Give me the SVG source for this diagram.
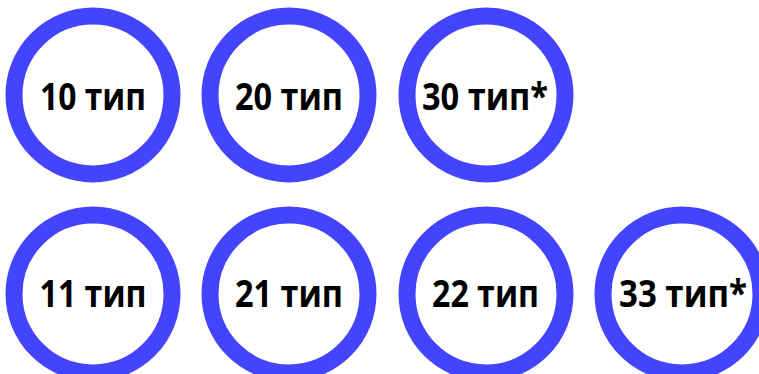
<svg xmlns="http://www.w3.org/2000/svg" width="759" height="374" viewBox="0 0 759 374">
<style>
.ring{fill:#ffffff;stroke:#4444ff;stroke-width:17}
.lbl{font-family:"Open Sans","Liberation Sans",sans-serif;font-weight:bold;font-size:38px;fill:#000000;text-anchor:middle}
</style>
<rect width="759" height="374" fill="#ffffff"/>
<g id="connectors"></g>
<g id="n10"><circle class="ring" cx="93" cy="95" r="79"/><text class="lbl" x="93" y="110" textLength="106" lengthAdjust="spacingAndGlyphs">10 тип</text></g>
<g id="n20"><circle class="ring" cx="289" cy="95" r="79"/><text class="lbl" x="289" y="110" textLength="108" lengthAdjust="spacingAndGlyphs">20 тип</text></g>
<g id="n30"><circle class="ring" cx="486" cy="95" r="79"/><text class="lbl" x="485" y="110" textLength="126" lengthAdjust="spacingAndGlyphs">30 тип*</text></g>
<g id="n11"><circle class="ring" cx="93" cy="294" r="79"/><text class="lbl" x="93" y="307" textLength="107" lengthAdjust="spacingAndGlyphs">11 тип</text></g>
<g id="n21"><circle class="ring" cx="289" cy="294" r="79"/><text class="lbl" x="289" y="307" textLength="108" lengthAdjust="spacingAndGlyphs">21 тип</text></g>
<g id="n22"><circle class="ring" cx="486" cy="294" r="79"/><text class="lbl" x="485.5" y="307" textLength="107" lengthAdjust="spacingAndGlyphs">22 тип</text></g>
<g id="n33"><circle class="ring" cx="682" cy="294" r="79"/><text class="lbl" x="683" y="307" textLength="128" lengthAdjust="spacingAndGlyphs">33 тип*</text></g>
</svg>
